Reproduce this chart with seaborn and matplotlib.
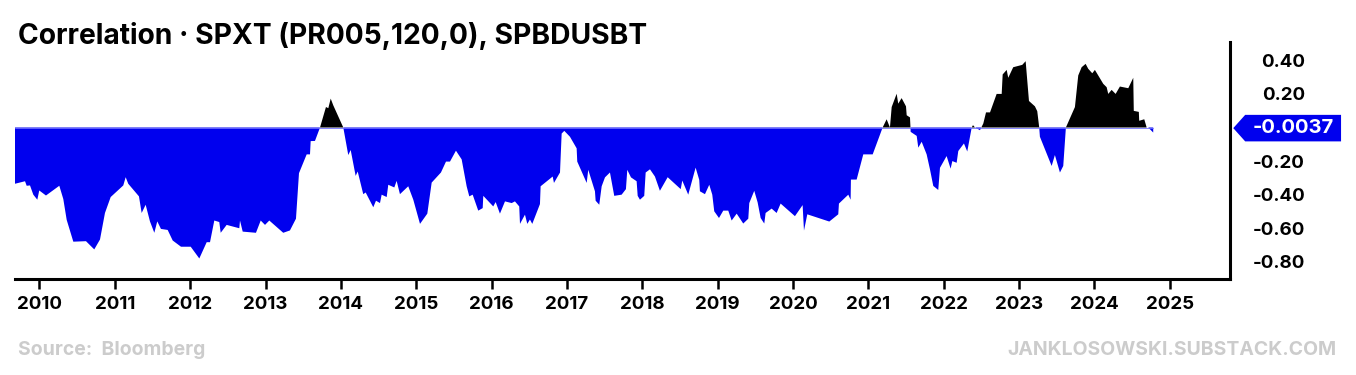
import matplotlib
matplotlib.use("Agg")
import matplotlib.pyplot as plt
import matplotlib.transforms as mtransforms
from matplotlib.patches import Polygon
import seaborn as sns
import numpy as np

# rolling correlation (decimal years)
years = [
    2009.675, 2009.808, 2009.830, 2009.874, 2009.918, 2009.971, 2009.997, 2010.086,
    2010.263, 2010.316, 2010.361, 2010.449, 2010.617, 2010.727, 2010.803, 2010.869,
    2010.945, 2011.112, 2011.144, 2011.178, 2011.320, 2011.356, 2011.409, 2011.466,
    2011.524, 2011.563, 2011.612, 2011.701, 2011.768, 2011.878, 2012.007, 2012.121,
    2012.219, 2012.263, 2012.320, 2012.386, 2012.405, 2012.484, 2012.652, 2012.661,
    2012.697, 2012.873, 2012.936, 2012.993, 2013.050, 2013.235, 2013.324, 2013.404,
    2013.444, 2013.546, 2013.590, 2013.599, 2013.656, 2013.723, 2013.802, 2013.833,
    2013.865, 2013.899, 2014.032, 2014.098, 2014.130, 2014.196, 2014.223, 2014.297,
    2014.329, 2014.430, 2014.466, 2014.519, 2014.541, 2014.608, 2014.629, 2014.709,
    2014.740, 2014.784, 2014.894, 2014.961, 2015.050, 2015.147, 2015.205, 2015.328,
    2015.395, 2015.448, 2015.527, 2015.603, 2015.669, 2015.704, 2015.749, 2015.823,
    2015.882, 2015.890, 2016.022, 2016.054, 2016.111, 2016.178, 2016.267, 2016.310,
    2016.367, 2016.377, 2016.443, 2016.474, 2016.509, 2016.540, 2016.642, 2016.651,
    2016.811, 2016.828, 2016.908, 2016.930, 2016.965, 2017.040, 2017.129, 2017.137,
    2017.262, 2017.283, 2017.372, 2017.381, 2017.429, 2017.461, 2017.505, 2017.571,
    2017.628, 2017.726, 2017.783, 2017.801, 2017.850, 2017.925, 2017.939, 2017.969,
    2018.026, 2018.045, 2018.102, 2018.168, 2018.234, 2018.337, 2018.510, 2018.531,
    2018.610, 2018.708, 2018.756, 2018.765, 2018.832, 2018.889, 2018.929, 2018.955,
    2019.018, 2019.075, 2019.141, 2019.186, 2019.253, 2019.340, 2019.407, 2019.420,
    2019.486, 2019.531, 2019.571, 2019.619, 2019.637, 2019.717, 2019.783, 2019.836,
    2020.026, 2020.128, 2020.146, 2020.190, 2020.482, 2020.601, 2020.610, 2020.734,
    2020.765, 2020.769, 2020.845, 2020.933, 2021.058, 2021.190, 2021.243, 2021.287,
    2021.310, 2021.376, 2021.397, 2021.442, 2021.500, 2021.509, 2021.553, 2021.562,
    2021.642, 2021.663, 2021.708, 2021.774, 2021.818, 2021.862, 2021.928, 2021.951,
    2022.039, 2022.092, 2022.115, 2022.172, 2022.194, 2022.269, 2022.313, 2022.372,
    2022.389, 2022.416, 2022.482, 2022.526, 2022.562, 2022.615, 2022.703, 2022.770,
    2022.783, 2022.836, 2022.857, 2022.923, 2023.043, 2023.088, 2023.132, 2023.211,
    2023.242, 2023.268, 2023.277, 2023.433, 2023.476, 2023.543, 2023.587, 2023.622,
    2023.742, 2023.786, 2023.831, 2023.884, 2023.918, 2023.972, 2024.007, 2024.118,
    2024.163, 2024.184, 2024.229, 2024.282, 2024.339, 2024.450, 2024.516, 2024.523,
    2024.590, 2024.595, 2024.662, 2024.694, 2024.715, 2024.781,
]
corr = [
    -0.335, -0.320, -0.347, -0.345, -0.400, -0.430, -0.375, -0.405,
    -0.347, -0.426, -0.550, -0.680, -0.677, -0.726, -0.667, -0.509,
    -0.414, -0.345, -0.296, -0.335, -0.410, -0.509, -0.460, -0.559,
    -0.627, -0.559, -0.604, -0.610, -0.673, -0.710, -0.710, -0.780,
    -0.683, -0.683, -0.554, -0.563, -0.627, -0.580, -0.600, -0.554,
    -0.620, -0.627, -0.554, -0.580, -0.554, -0.627, -0.613, -0.543,
    -0.272, -0.160, -0.160, -0.081, -0.080, 0.000, 0.122, 0.115,
    0.172, 0.132, 0.000, -0.164, -0.134, -0.288, -0.262, -0.397,
    -0.387, -0.475, -0.436, -0.450, -0.400, -0.414, -0.341, -0.357,
    -0.318, -0.397, -0.350, -0.430, -0.574, -0.513, -0.328, -0.268,
    -0.203, -0.203, -0.138, -0.190, -0.350, -0.410, -0.400, -0.495,
    -0.480, -0.407, -0.470, -0.444, -0.513, -0.440, -0.450, -0.440,
    -0.470, -0.574, -0.519, -0.574, -0.548, -0.574, -0.456, -0.350,
    -0.292, -0.330, -0.268, -0.036, -0.020, -0.055, -0.124, -0.203,
    -0.330, -0.252, -0.380, -0.436, -0.460, -0.350, -0.297, -0.268,
    -0.407, -0.400, -0.367, -0.252, -0.297, -0.320, -0.407, -0.430,
    -0.407, -0.268, -0.249, -0.292, -0.377, -0.296, -0.367, -0.316,
    -0.400, -0.239, -0.312, -0.380, -0.397, -0.341, -0.400, -0.499,
    -0.539, -0.495, -0.495, -0.554, -0.513, -0.572, -0.543, -0.450,
    -0.377, -0.446, -0.539, -0.572, -0.509, -0.483, -0.509, -0.453,
    -0.528, -0.462, -0.614, -0.517, -0.560, -0.517, -0.453, -0.400,
    -0.430, -0.310, -0.310, -0.160, -0.160, 0.000, 0.049, 0.000,
    0.122, 0.201, 0.142, 0.175, 0.126, 0.073, 0.060, -0.026,
    -0.050, -0.120, -0.085, -0.160, -0.249, -0.348, -0.372, -0.240,
    -0.170, -0.245, -0.200, -0.210, -0.140, -0.095, -0.143, 0.000,
    0.014, 0.000, -0.016, 0.024, 0.090, 0.090, 0.200, 0.200,
    0.316, 0.343, 0.296, 0.359, 0.373, 0.395, 0.158, 0.126,
    0.097, 0.000, -0.055, -0.229, -0.164, -0.268, -0.229, 0.000,
    0.122, 0.310, 0.359, 0.379, 0.350, 0.323, 0.343, 0.260,
    0.240, 0.200, 0.224, 0.200, 0.244, 0.234, 0.296, 0.099,
    0.093, 0.040, 0.049, 0.000, 0.000, -0.030,
]
last_value = -0.0037
year_ticks = list(range(2010, 2026))
corr_ticks = [0.40, 0.20, -0.20, -0.40, -0.60, -0.80]

title = "Correlation \u00b7 SPXT (PR005,120,0), SPBDUSBT"
source = "Source:  Bloomberg"
credit = "JANKLOSOWSKI.SUBSTACK.COM"

BLUE = "#0000EE"

sns.set_theme(style="ticks")
plt.rcParams["font.family"] = ["Inter", "DejaVu Sans"]

fig = plt.figure(figsize=(13.56, 3.75), dpi=100)
ax = fig.add_axes([15 / 1356, 1 - 279.3 / 375, 1215 / 1356, 237.6 / 375])

x = np.array(years)
y = np.array(corr)
ax.fill_between(x, y, 0, where=y <= 0, interpolate=True, color=BLUE, lw=0)
ax.fill_between(x, y, 0, where=y >= 0, interpolate=True, color="black", lw=0)
sns.lineplot(x=[x[0], x[-1]], y=[0, 0], ax=ax, color="#7070ff", lw=0.6)

ax.set_xlim(2009.675, 2025.80)
ax.set_ylim(-0.904, 0.511)
ax.set_xticks(year_ticks, labels=[str(t) for t in year_ticks])
ax.set_yticks(corr_ticks, labels=[f"{t:.2f}" for t in corr_ticks])
ax.yaxis.tick_right()
ax.set_xlabel("")
ax.set_ylabel("")

sns.despine(ax=ax, left=True, top=True, right=False, bottom=False)
for side in ("right", "bottom"):
    ax.spines[side].set_linewidth(2.2)
    ax.spines[side].set_color("black")
ax.tick_params(axis="both", length=7, width=1.8, color="black",
               labelsize=13.5, labelcolor="black")
ax.tick_params(axis="x", pad=5)
ax.tick_params(axis="y", pad=47)
for lab in ax.get_xticklabels() + ax.get_yticklabels():
    lab.set_fontweight("bold")
for lab in ax.get_yticklabels():
    lab.set_horizontalalignment("right")

# last value tag on the right axis
trans = mtransforms.blended_transform_factory(ax.transAxes, ax.transData)
h = 0.079
tag = Polygon([(1.0027, last_value), (1.0125, last_value + h), (1.0914, last_value + h),
               (1.0914, last_value - h), (1.0125, last_value - h)],
              closed=True, transform=trans, clip_on=False, color=BLUE, lw=0)
ax.add_patch(tag)
ax.text(1.0518, last_value, f"{last_value:.4f}", transform=trans, color="white",
        fontsize=14.5, fontweight="bold", ha="center", va="center", clip_on=False)

fig.text(18 / 1356, 1 - 35.5 / 375, title, fontsize=20.3, fontweight="bold",
         ha="left", va="center", color="black")
fig.text(18 / 1356, 1 - 350 / 375, source, fontsize=14, fontweight="bold",
         ha="left", va="center", color="#cccccc")
fig.text(1337 / 1356, 1 - 350 / 375, credit, fontsize=14, fontweight="bold",
         ha="right", va="center", color="#cccccc")

fig.savefig("out.png", dpi=100)
